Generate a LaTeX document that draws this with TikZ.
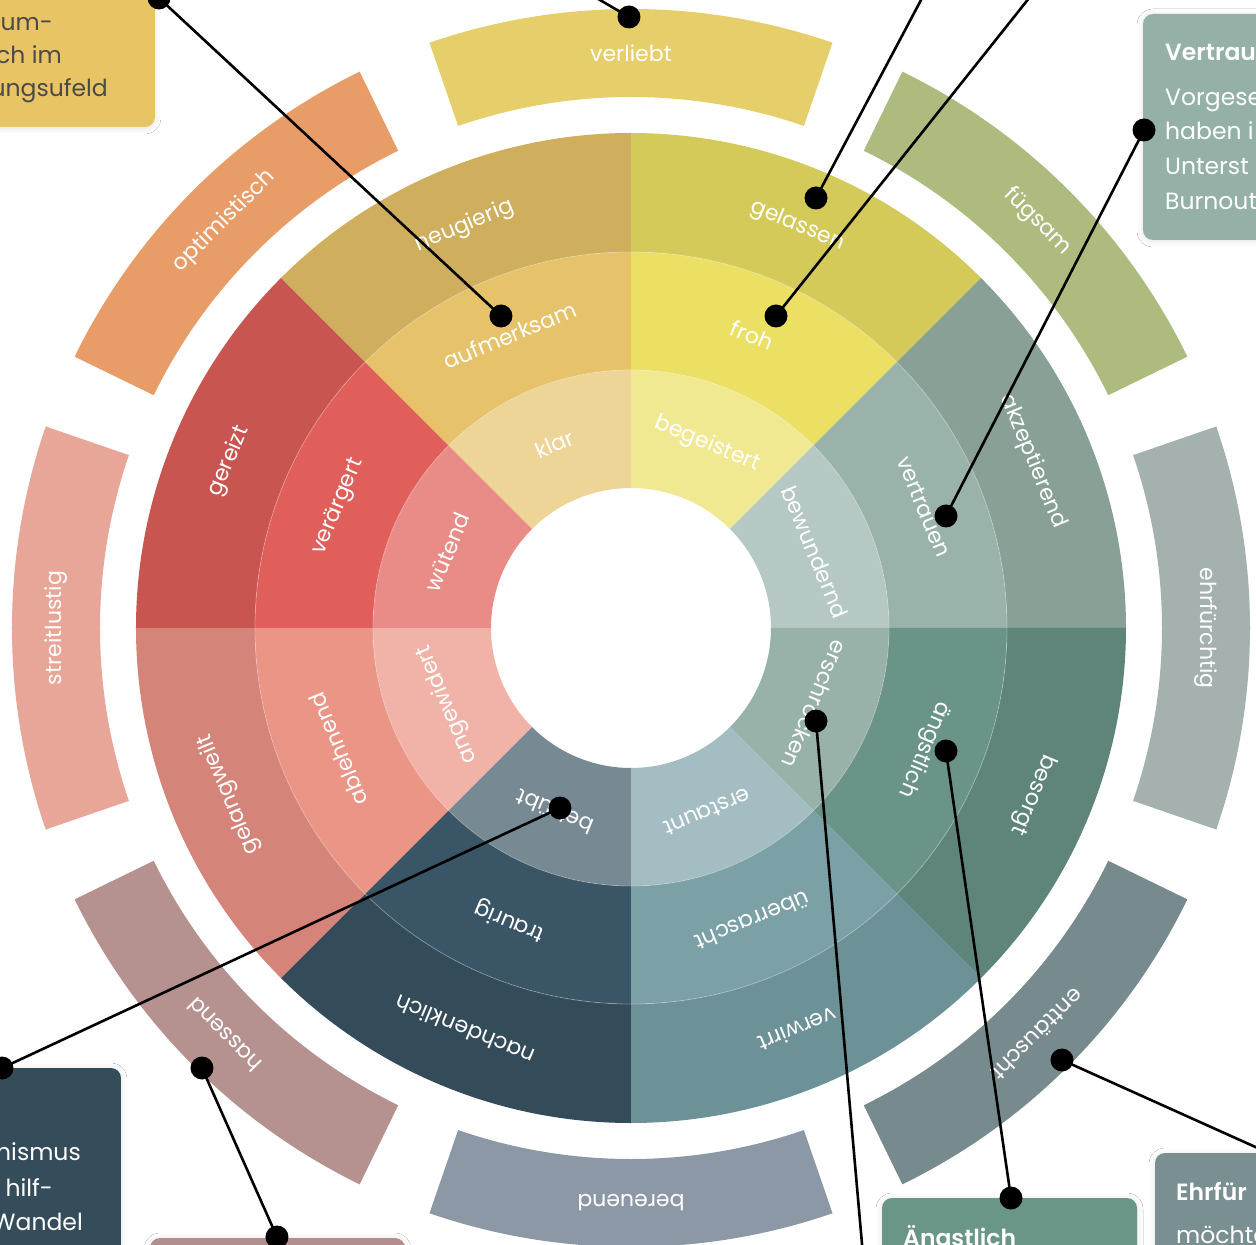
\documentclass[tikz,border=0pt]{standalone}
\usepackage{fontspec}
\setmainfont{Poppins}[BoldFont={* SemiBold}]
\usetikzlibrary{shadows.blur}
% disc colours
\definecolor{gOut}{HTML}{CFAE5D}\definecolor{gMid}{HTML}{E6C36A}\definecolor{gIn}{HTML}{EDD497}
\definecolor{yOut}{HTML}{D4CA5A}\definecolor{yMid}{HTML}{EBE064}\definecolor{yIn}{HTML}{F1E992}
\definecolor{sOut}{HTML}{89A097}\definecolor{sMid}{HTML}{9AB3AA}\definecolor{sIn}{HTML}{B6C8C3}
\definecolor{grOut}{HTML}{5F857B}\definecolor{grMid}{HTML}{6B9489}\definecolor{grIn}{HTML}{98B2AA}
\definecolor{tOut}{HTML}{6C9196}\definecolor{tMid}{HTML}{7BA1A6}\definecolor{tIn}{HTML}{A3BDC2}
\definecolor{nOut}{HTML}{344B5A}\definecolor{nMid}{HTML}{3A5565}\definecolor{nIn}{HTML}{778A94}
\definecolor{saOut}{HTML}{D48478}\definecolor{saMid}{HTML}{EA9586}\definecolor{saIn}{HTML}{F1B3A7}
\definecolor{rOut}{HTML}{C95551}\definecolor{rMid}{HTML}{E05F5A}\definecolor{rIn}{HTML}{E98C87}
% outer ring colours
\definecolor{cVer}{HTML}{E6CF6B}\definecolor{cFue}{HTML}{AEBB7E}\definecolor{cEhr}{HTML}{A4B1AF}
\definecolor{cEnt}{HTML}{778A8D}\definecolor{cBer}{HTML}{8D98A7}\definecolor{cHas}{HTML}{B5918F}
\definecolor{cStr}{HTML}{E8A698}\definecolor{cOpt}{HTML}{E89D68}
% boxes
\definecolor{bGold}{HTML}{E8C464}\definecolor{bVer}{HTML}{95B1A7}\definecolor{bEhr}{HTML}{7A8F91}
\definecolor{bAng}{HTML}{6A9688}\definecolor{bNav}{HTML}{354C5A}\definecolor{bHas}{HTML}{B48E8C}
\definecolor{txtDark}{HTML}{4A4A4A}
\newcommand\annsec[5]{\fill[#1] (#2:#4) arc[start angle=#2,end angle=#3,radius=#4] -- (#3:#5) arc[start angle=#3,end angle=#2,radius=#5] -- cycle;}
\tikzset{
  lbl/.style={text=white, font=\fontsize{22}{26}\selectfont, inner sep=0pt},
  dot/.style={circle, fill=black, minimum size=23pt, inner sep=0pt},
  conn/.style={line width=2.6pt, draw=black},
  boxtxt/.style={font=\fontsize{23.5}{28}\selectfont, inner sep=0pt},
  boxbold/.style={font=\fontsize{23.5}{28}\selectfont\bfseries, inner sep=0pt},
  boxshadow/.style={blur shadow={shadow blur steps=6, shadow xshift=0pt, shadow yshift=-1pt, shadow blur radius=6pt, shadow opacity=12}}
}
\begin{document}
\begin{tikzpicture}[x=1pt,y=1pt]
\useasboundingbox (-631,-617) rectangle (625,628);
\fill[white] (-631,-617) rectangle (625,628);
\begin{scope}
\clip (-631,-617) rectangle (625,628);
% main disc
\foreach \a/\co/\cm/\ci in {90/gOut/gMid/gIn, 45/yOut/yMid/yIn, 0/sOut/sMid/sIn, -45/grOut/grMid/grIn, -90/tOut/tMid/tIn, -135/nOut/nMid/nIn, 180/saOut/saMid/saIn, 135/rOut/rMid/rIn}{
  \pgfmathsetmacro\b{\a+45}
  \annsec{\ci}{\a}{\b}{140}{258}
  \annsec{\cm}{\a}{\b}{258}{376}
  \annsec{\co}{\a}{\b}{376}{495}
}
\draw[white, opacity=0.3, line width=0.8pt] (0,0) circle[radius=258] (0,0) circle[radius=376];
% disc labels
\foreach \a/\o/\m/\i [count=\k] in {112.5/neugierig/aufmerksam/klar, 67.5/gelassen/froh/begeistert, 22.5/akzeptierend/vertrauen/bewundernd, -22.5/besorgt/ängstlich/erschrocken, -67.5/verwirrt/überrascht/erstaunt, -112.5/nachdenklich/traurig/betrübt, -157.5/gelangweilt/ablehnend/angewidert, 157.5/gereizt/verärgert/wütend}{
  \node[lbl, rotate=\a-90] (lo\k) at (\a:435) {\o};
  \node[lbl, rotate=\a-90] (lm\k) at (\a:317) {\m};
  \node[lbl, rotate=\a-90] (li\k) at (\a:199) {\i};
}
% outer ring
\foreach \a/\c/\t [count=\k] in {90/cVer/verliebt, 45/cFue/fügsam, 0/cEhr/ehrfürchtig, -45/cEnt/enttäuscht, -90/cBer/bereuend, -135/cHas/hassend, 180/cStr/streitlustig, 135/cOpt/optimistisch}{
  \pgfmathsetmacro\s{\a-19}
  \pgfmathsetmacro\e{\a+19}
  \annsec{\c}{\s}{\e}{531}{619}
  \node[lbl, rotate=\a-90] (ou\k) at (\a:575) {\t};
}
% boxes
\fill[bGold, rounded corners=10pt, boxshadow] (-700,501) rectangle (-476,700);
\node[boxtxt, text=txtDark, anchor=base east] (ta1) at (-578,597) {hum-};
\node[boxtxt, text=txtDark, anchor=base east] (ta2) at (-569,564) {ch im};
\node[boxtxt, text=txtDark, anchor=base east] (ta3) at (-523,531) {ungsufeld};

\fill[bVer, rounded corners=10pt, boxshadow] (512,388) rectangle (700,614);
\node[boxbold, text=white, anchor=base west] (tb0) at (534,567) {Vertrau};
\node[boxtxt, text=white, anchor=base west] (tb1) at (534,522) {Vorgese};
\node[boxtxt, text=white, anchor=base west] (tb2) at (534,488) {haben i};
\node[boxtxt, text=white, anchor=base west] (tb3) at (534,453) {Unterst};
\node[boxtxt, text=white, anchor=base west] (tb4) at (534,418) {Burnout};

\fill[bEhr, rounded corners=10pt, boxshadow] (524,-700) rectangle (700,-525);
\node[boxbold, text=white, anchor=base west] (tc0) at (545,-572) {Ehrfür};
\node[boxtxt, text=white, anchor=base west] (tc1) at (545,-615) {möchte};

\fill[bAng, rounded corners=10pt, boxshadow] (251,-700) rectangle (506,-570);
\node[boxbold, text=white, anchor=base west] (td0) at (272,-618) {Ängstlich};

\fill[bNav, rounded corners=10pt, boxshadow] (-700,-700) rectangle (-510,-440);
\node[boxtxt, text=white, anchor=base east] (te1) at (-550,-532) {nismus};
\node[boxtxt, text=white, anchor=base east] (te2) at (-578,-568) {hilf-};
\node[boxtxt, text=white, anchor=base east] (te3) at (-548,-602) {Wandel};

\fill[bHas, rounded corners=10pt, boxshadow] (-481,-700) rectangle (-226,-610);

% dots and connectors
\node[dot] (dA) at (-472,630) {};
\node[dot] (dAuf) at (-130,312) {};
\node[dot] (dVer) at (-2,611) {};
\coordinate (eVer) at (-60,645);
\node[dot] (dGel) at (185,430) {};
\coordinate (eGel) at (307,660);
\node[dot] (dFroh) at (145,312) {};
\coordinate (eFroh) at (422,660);
\node[dot] (dVtr) at (315,112) {};
\node[dot] (dBoxB) at (513,498) {};
\node[dot] (dAng) at (315,-123) {};
\node[dot] (dBoxD) at (380,-570) {};
\node[dot] (dErs) at (185,-93) {};
\coordinate (eErs) at (234,-650);
\node[dot] (dEnt) at (431,-432) {};
\coordinate (eEnt) at (660,-535);
\node[dot] (dBet) at (-71,-180) {};
\node[dot] (dBoxE) at (-629,-440) {};
\node[dot] (dHas) at (-429,-440) {};
\node[dot] (dBoxF) at (-354,-609) {};
\draw[conn] (dA.center) -- (dAuf.center);
\draw[conn] (dVer.center) -- (eVer);
\draw[conn] (dGel.center) -- (eGel);
\draw[conn] (dFroh.center) -- (eFroh);
\draw[conn] (dVtr.center) -- (dBoxB.center);
\draw[conn] (dAng.center) -- (dBoxD.center);
\draw[conn] (dErs.center) -- (eErs);
\draw[conn] (dEnt.center) -- (eEnt);
\draw[conn] (dBet.center) -- (dBoxE.center);
\draw[conn] (dHas.center) -- (dBoxF.center);
\end{scope}
\end{tikzpicture}
\end{document}
